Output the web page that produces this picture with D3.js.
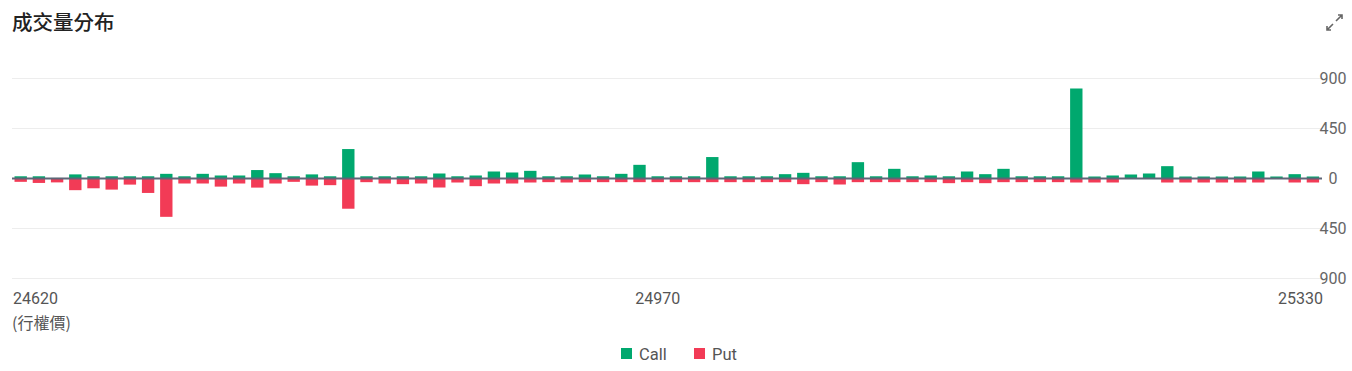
<!DOCTYPE html>
<html>
<head>
<meta charset="utf-8">
<script src="https://cdn.jsdelivr.net/npm/d3@7"></script>
<style>
  body { margin: 0; background: #fff; font-family: Roboto, "Noto Sans CJK TC", sans-serif; }
  svg { display: block; }
</style>
</head>
<body>
<svg id="chart" width="1352" height="371"></svg>
<script>
// strikes 24620 .. 25330 step 10
var strikes = d3.range(24620, 25331, 10);

var callVol = [20, 20, 5, 37, 20, 20, 20, 20, 42, 20, 42, 27, 27, 76, 48, 20, 37, 20,
  265, 20, 20, 20, 20, 45, 20, 27, 63, 54, 69, 20, 20, 36, 20, 42, 123,
  20, 20, 20, 193, 20, 20, 20, 39, 51, 20, 20, 147, 20, 87, 20, 27, 20, 63, 39, 87,
  20, 20, 20, 810, 18, 27, 36, 45, 111, 18, 18, 18, 18, 63, 18, 39, 18];

var putVol = [30, 40, 35, 105, 88, 100, 55, 130, 345, 45, 45, 73, 45, 82, 45, 30, 64, 60,
  272, 33, 45, 51, 45, 81, 36, 69, 45, 45, 36, 33, 36, 33, 33, 33, 33,
  33, 33, 33, 33, 33, 33, 33, 33, 51, 33, 54, 33, 33, 33, 33, 33, 42, 33, 42, 33,
  33, 33, 33, 36, 36, 36, 0, 0, 36, 36, 36, 36, 36, 36, 0, 36, 36];

var yTicks = [-900, -450, 0, 450, 900];
var xTickLabels = [24620, 24970, 25330];

var callColor = "#00a86e", putColor = "#f23b56";

var svg = d3.select("#chart");

var x = d3.scaleBand()
  .domain(strikes)
  .range([11.6, 1322])
  .paddingInner(0.32)
  .paddingOuter(0.16);

var y = d3.scaleLinear()
  .domain([-900, 900])
  .range([278.5, 78.5]);

// title
svg.append("text")
  .attr("x", 12).attr("y", 29.5)
  .attr("font-size", 20.5).attr("font-weight", 500)
  .attr("fill", "#222")
  .attr("font-family", "'Noto Sans CJK TC', sans-serif")
  .text("成交量分布");

// expand icon
var icon = svg.append("g").attr("stroke", "#666").attr("stroke-width", 1.6).attr("fill", "none");
icon.append("path").attr("d", "M1336 21 L1342 15 M1338 15 L1342 15 L1342 19");
icon.append("path").attr("d", "M1333 24 L1327 30 M1331 30 L1327 30 L1327 26");

// grid
svg.append("g")
  .selectAll("line")
  .data(yTicks.filter(function(d) { return d != 0; }))
  .enter().append("line")
  .attr("x1", 12).attr("x2", 1322)
  .attr("y1", function(d) { return y(d); })
  .attr("y2", function(d) { return y(d); })
  .attr("stroke", "#ededed").attr("stroke-width", 1);

// y labels
svg.append("g")
  .selectAll("text")
  .data(yTicks)
  .enter().append("text")
  .attr("x", 1333)
  .attr("y", function(d) { return y(d); })
  .attr("dy", "0.35em")
  .attr("text-anchor", "middle")
  .attr("font-size", 16)
  .attr("fill", "#666")
  .text(function(d) { return Math.abs(d); });

// call bars
svg.append("g")
  .selectAll("rect")
  .data(strikes)
  .enter().append("rect")
  .attr("x", function(d) { return x(d); })
  .attr("width", x.bandwidth())
  .attr("y", function(d, i) { return y(callVol[i]); })
  .attr("height", function(d, i) { return y(0) - y(callVol[i]); })
  .attr("fill", callColor);

// put bars
svg.append("g")
  .selectAll("rect")
  .data(strikes)
  .enter().append("rect")
  .attr("x", function(d) { return x(d); })
  .attr("width", x.bandwidth())
  .attr("y", y(0))
  .attr("height", function(d, i) { return y(-putVol[i]) - y(0); })
  .attr("fill", putColor);

// zero line
svg.append("line")
  .attr("x1", 12).attr("x2", 1322)
  .attr("y1", y(0)).attr("y2", y(0))
  .attr("stroke", "#5f6577").attr("stroke-width", 2);

// x labels
var xl = svg.append("g").attr("font-size", 16).attr("fill", "#555");
xTickLabels.forEach(function(s, i) {
  var anchor = i == 0 ? "start" : (i == xTickLabels.length - 1 ? "end" : "middle");
  var px = i == 0 ? 13 : (i == xTickLabels.length - 1 ? 1323 : x(s) + x.bandwidth() / 2);
  xl.append("text")
    .attr("x", px).attr("y", 304)
    .attr("text-anchor", anchor)
    .text(s);
});
xl.append("text")
  .attr("x", 12).attr("y", 329)
  .attr("font-family", "'Noto Sans CJK TC', sans-serif")
  .attr("font-size", 16)
  .text("(行權價)");

// legend
var legend = svg.append("g").attr("font-size", 16.5).attr("fill", "#555");
[["Call", callColor, 621], ["Put", putColor, 694]].forEach(function(l) {
  legend.append("rect")
    .attr("x", l[2]).attr("y", 348)
    .attr("width", 11).attr("height", 11)
    .attr("fill", l[1]);
  legend.append("text")
    .attr("x", l[2] + 18).attr("y", 360)
    .text(l[0]);
});
</script>
</body>
</html>
